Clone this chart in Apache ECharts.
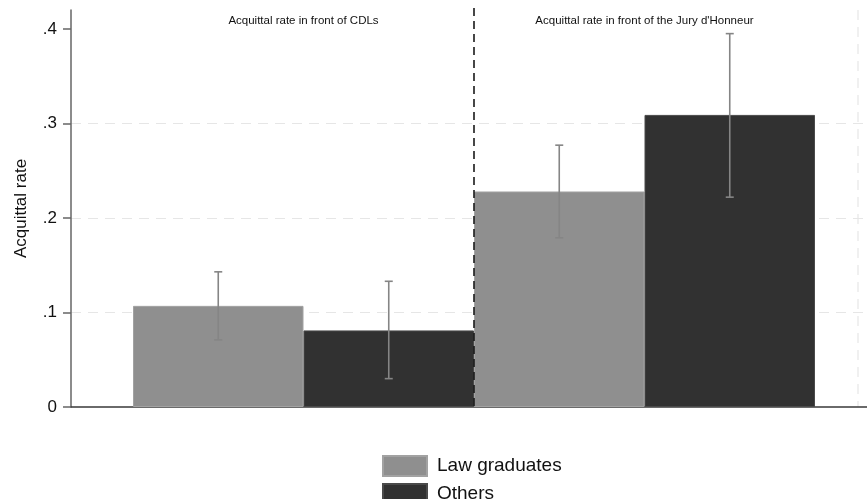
<!DOCTYPE html>
<html>
<head>
<meta charset="utf-8">
<script src="https://cdn.jsdelivr.net/npm/echarts@6/dist/echarts.min.js"></script>
<style>
  html, body { margin: 0; padding: 0; background: #fff; }
  #chart { width: 867px; height: 499px; }
</style>
</head>
<body>
<div id="chart"></div>
<script>
// Panels (one per hearing body)
const panels = ["Acquittal rate in front of CDLs", "Acquittal rate in front of the Jury d'Honneur"];
// Mean acquittal rate by group
const lawGraduates = [0.107, 0.228];
const others = [0.081, 0.309];
// Confidence intervals
const lawLow = [0.071, 0.179];
const lawHigh = [0.143, 0.277];
const othersLow = [0.030, 0.222];
const othersHigh = [0.133, 0.395];
// Y ticks
const yTicks = [0, 0.1, 0.2, 0.3, 0.4];
const yTop = 0.42;

const LAW_COLOR = '#8f8f8f';
const OTHERS_COLOR = '#313131';
const FONT = '"Liberation Sans", Arial, sans-serif';

function fmtTick(v) {
  if (v === 0) return '0';
  return String(+v.toFixed(1)).replace(/^0/, '');
}

function errorBars(idx, lo, hi) {
  return lo.map((l, i) => [i, l, hi[i], idx]);
}

function renderError(params, api) {
  const cat = api.value(0);
  const lo = api.coord([cat, api.value(1)]);
  const hi = api.coord([cat, api.value(2)]);
  const band = api.size([1, 0])[0];
  const x = lo[0] + (api.value(3) === 0 ? -band / 4 : band / 4);
  const cap = 4;
  const style = { stroke: '#858585', lineWidth: 1.6 };
  return {
    type: 'group',
    children: [
      { type: 'line', shape: { x1: x, y1: lo[1], x2: x, y2: hi[1] }, style },
      { type: 'line', shape: { x1: x - cap, y1: lo[1], x2: x + cap, y2: lo[1] }, style },
      { type: 'line', shape: { x1: x - cap, y1: hi[1], x2: x + cap, y2: hi[1] }, style }
    ]
  };
}

function renderDivider(params, api) {
  const cat = api.value(0);
  const base = api.coord([cat, 0]);
  const top = api.coord([cat, yTop]);
  const band = api.size([1, 0])[0];
  const x = base[0] - band / 2;
  return {
    type: 'line',
    shape: { x1: x, y1: top[1] - 2, x2: x, y2: base[1] },
    style: { stroke: '#1a1a1a', lineWidth: 1.6, lineDash: [8, 5] }
  };
}

const chart = echarts.init(document.getElementById('chart'), null, { renderer: 'canvas' });

chart.setOption({
  animation: false,
  backgroundColor: '#ffffff',
  textStyle: { fontFamily: FONT },
  grid: [
    { left: 71, right: 0, top: 10, bottom: 92, containLabel: false, outerBoundsMode: 'none' },
    { left: 133, right: 52, top: 10, bottom: 92, containLabel: false, outerBoundsMode: 'none' }
  ],
  xAxis: [
    {
      gridIndex: 0, type: 'value', min: 0, max: 1,
      axisLine: { show: true, onZero: false, lineStyle: { color: '#3a3a3a', width: 1.5 } },
      axisTick: { show: false }, axisLabel: { show: false }, splitLine: { show: false }
    },
    {
      gridIndex: 1, type: 'category', data: panels, position: 'top',
      axisLine: { show: false }, axisTick: { show: false }, splitLine: { show: false },
      axisLabel: { inside: true, margin: 5, color: '#111', fontSize: 11.5, fontFamily: FONT }
    }
  ],
  yAxis: [
    {
      gridIndex: 0, type: 'value', min: 0, max: yTop, interval: 0.1,
      name: 'Acquittal rate', nameLocation: 'middle', nameGap: 41,
      nameTextStyle: { fontSize: 17, color: '#111', fontFamily: FONT },
      axisLine: { show: true, onZero: false, lineStyle: { color: '#666', width: 1.5 } },
      axisTick: { show: true, length: 8, customValues: yTicks, lineStyle: { color: '#666', width: 1.5 } },
      axisLabel: { customValues: yTicks, margin: 14, fontSize: 17, color: '#111', fontFamily: FONT, formatter: fmtTick },
      splitLine: { show: true, showMaxLine: false, showMinLine: false, lineStyle: { color: '#e6e6e6', width: 1.2, type: [10, 7] } }
    },
    {
      gridIndex: 1, type: 'value', min: 0, max: yTop, interval: 0.1, show: false,
      splitLine: { show: false }
    }
  ],
  legend: {
    orient: 'vertical', left: 382, top: 455, height: 80, padding: 0,
    itemWidth: 44, itemGap: 6, itemHeight: 20, icon: 'rect',
    textStyle: { fontSize: 19, color: '#111', fontFamily: FONT, padding: [0, 0, 0, 5] },
    data: ['Law graduates', 'Others']
  },
  graphic: [
    {
      type: 'line', shape: { x1: 858, y1: 10, x2: 858, y2: 407 },
      style: { stroke: '#e6e6e6', lineWidth: 1.2, lineDash: [10, 7] }, silent: true
    }
  ],
  series: [
    {
      name: 'Law graduates', type: 'bar', xAxisIndex: 1, yAxisIndex: 1,
      data: lawGraduates, barGap: '0%', barCategoryGap: '0%',
      itemStyle: { color: LAW_COLOR, borderColor: '#a2a2a2', borderWidth: 1 }
    },
    {
      name: 'Others', type: 'bar', xAxisIndex: 1, yAxisIndex: 1,
      data: others, barGap: '0%', barCategoryGap: '0%',
      itemStyle: { color: OTHERS_COLOR, borderColor: '#4a4a4a', borderWidth: 1 }
    },
    {
      type: 'custom', xAxisIndex: 1, yAxisIndex: 1, renderItem: renderError,
      data: errorBars(0, lawLow, lawHigh).concat(errorBars(1, othersLow, othersHigh)),
      z: 5, silent: true
    },
    {
      type: 'custom', xAxisIndex: 1, yAxisIndex: 1, renderItem: renderDivider,
      data: [[1]], z: 6, silent: true
    }
  ]
});
</script>
</body>
</html>
